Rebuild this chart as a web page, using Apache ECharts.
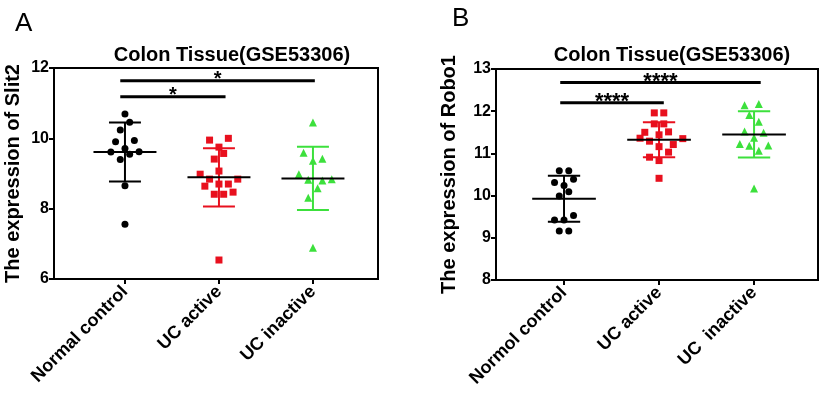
<!DOCTYPE html>
<html>
<head>
<meta charset="utf-8">
<script src="https://cdn.jsdelivr.net/npm/echarts@6/dist/echarts.min.js"></script>
<style>
  html, body { margin: 0; padding: 0; background: #fff; }
  #chart { width: 824px; height: 393px; }
</style>
</head>
<body>
<div id="chart"></div>
<script>
// group names (panel B keeps the original spelling)
const groupsA = ['Normal control', 'UC active', 'UC inactive'];
const groupsB = ['Normol control', 'UC active', 'UC  inactive'];

// panel A: Slit2 values, with horizontal jitter offsets as drawn
const slit2Normal = [10.69, 10.46, 10.24, 9.90, 9.94, 9.71, 9.61, 9.55, 9.62, 9.40, 8.65, 7.56];
const slit2NormalJit = [0, 0.05, -0.05, -0.1, 0.1, 0, -0.15, 0.05, 0.15, -0.05, 0, 0];
const slit2Active = [9.95, 10.00, 9.75, 9.57, 9.41, 9.07, 8.98, 8.84, 8.84, 8.64, 8.70, 8.70, 8.47, 8.41, 8.41, 6.54];
const slit2ActiveJit = [-0.1, 0.1, 0, 0.05, -0.05, 0, -0.2, -0.1, 0.2, -0.15, 0, 0.1, 0.15, -0.05, 0.05, 0];
const slit2Inactive = [10.45, 9.59, 9.42, 9.36, 8.98, 8.82, 8.80, 8.84, 8.58, 8.31, 6.89];
const slit2InactiveJit = [0, -0.1, 0.1, 0, -0.15, -0.05, 0.1, 0.2, 0.05, -0.05, 0];
const slit2Mean = [9.61, 8.89, 8.86];
const slit2Sd = [0.84, 0.83, 0.90];

// panel B: Robo1 values
const robo1Normal = [10.59, 10.59, 10.31, 10.39, 10.24, 10.09, 9.99, 9.42, 9.42, 9.53, 9.16, 9.16];
const robo1NormalJit = [-0.05, 0.05, -0.1, 0.1, 0, 0.05, -0.05, -0.1, 0, 0.1, -0.05, 0.05];
const robo1Active = [11.96, 11.96, 11.70, 11.70, 11.50, 11.51, 11.36, 11.44, 11.29, 11.35, 11.21, 11.16, 11.03, 10.91, 10.83, 10.41];
const robo1ActiveJit = [-0.05, 0.05, -0.05, 0.05, -0.15, 0.1, -0.2, 0, -0.1, 0.25, 0.15, 0, 0.1, -0.1, 0, 0];
const robo1Inactive = [12.14, 12.17, 11.91, 11.75, 11.52, 11.49, 11.37, 11.22, 11.18, 11.19, 11.06, 10.17];
const robo1InactiveJit = [-0.1, 0.05, -0.05, 0.05, -0.1, 0.1, 0, -0.15, -0.05, 0.15, 0.05, 0];
const robo1Mean = [9.925, 11.325, 11.45];
const robo1Sd = [0.545, 0.415, 0.55];

// significance brackets: [from group, to group, height, label]
const sigA = [[0.95, 2.07, 11.18, '*'], [0.95, 3.02, 11.64, '*']];
const sigB = [[0.96, 2.05, 12.20, '****'], [0.96, 3.07, 12.68, '****']];

const FONT = "'Liberation Sans', Arial, sans-serif";
const COLORS = ['#000000', '#e8101e', '#3ce03c'];
const SYMBOLS = ['circle', 'rect', 'triangle'];

const chart = echarts.init(document.getElementById('chart'));

function points(vals, jit, group) {
  return vals.map((v, i) => [group + jit[i], v]);
}

function scatter(vals, jit, g, axis) {
  return {
    type: 'scatter', xAxisIndex: axis, yAxisIndex: axis,
    symbol: SYMBOLS[g], symbolSize: g === 2 ? 8 : 7,
    itemStyle: { color: COLORS[g], opacity: 1 },
    data: points(vals, jit, g + 1), z: 2
  };
}

function errorBars(mean, sd, axis) {
  return {
    type: 'custom', xAxisIndex: axis, yAxisIndex: axis, z: 3,
    data: mean.map((m, i) => [i + 1, m, sd[i]]),
    renderItem: (params, api) => {
      const x = api.value(0), m = api.value(1), s = api.value(2);
      const c = COLORS[params.dataIndex];
      const seg = (a, b, color) => {
        const p1 = api.coord(a), p2 = api.coord(b);
        return { type: 'line', shape: { x1: p1[0], y1: p1[1], x2: p2[0], y2: p2[1] },
          style: { stroke: color, lineWidth: 2 } };
      };
      return { type: 'group', children: [
        seg([x, m - s], [x, m + s], c),
        seg([x - 0.17, m + s], [x + 0.17, m + s], c),
        seg([x - 0.17, m - s], [x + 0.17, m - s], c),
        seg([x - 0.335, m], [x + 0.335, m], '#000')
      ] };
    }
  };
}

function brackets(sig, axis, size) {
  return {
    type: 'custom', xAxisIndex: axis, yAxisIndex: axis, z: 3,
    data: sig.map(s => [s[0], s[1], s[2]]),
    renderItem: (params, api) => {
      const p1 = api.coord([api.value(0), api.value(2)]);
      const p2 = api.coord([api.value(1), api.value(2)]);
      return { type: 'group', children: [
        { type: 'line', shape: { x1: p1[0], y1: p1[1], x2: p2[0], y2: p2[1] },
          style: { stroke: '#000', lineWidth: 3 } },
        { type: 'text', style: {
          text: sig[params.dataIndex][3], x: (p1[0] + p2[0]) / 2, y: p1[1] - 1,
          align: 'center', verticalAlign: 'middle',
          font: 'bold ' + size + 'px ' + FONT, fill: '#000' } }
      ] };
    }
  };
}

function xAxis(idx, names, min, max) {
  return {
    type: 'value', gridIndex: idx, min: min, max: max,
    splitLine: { show: false },
    axisLine: { lineStyle: { color: '#000', width: 2 } },
    axisTick: { customValues: [1, 2, 3], length: 5, lineStyle: { color: '#000', width: 2 } },
    axisLabel: {
      customValues: [1, 2, 3], rotate: 45, margin: 10,
      formatter: v => names[Math.round(v) - 1],
      color: '#000', fontWeight: 'bold', fontSize: 18, fontFamily: FONT
    }
  };
}

function yAxis(idx, name, min, max, gap) {
  return {
    type: 'value', gridIndex: idx, min: min, max: max, interval: idx === 0 ? 2 : 1,
    name: name, nameLocation: 'middle', nameGap: gap,
    nameTextStyle: { color: '#000', fontWeight: 'bold', fontSize: 20, fontFamily: FONT },
    splitLine: { show: false },
    axisLine: { show: true, lineStyle: { color: '#000', width: 2 } },
    axisTick: { show: true, length: 5, lineStyle: { color: '#000', width: 2 } },
    axisLabel: { color: '#000', fontWeight: 'bold', fontSize: 16, fontFamily: FONT, margin: 5 }
  };
}

const titleStyle = { color: '#000', fontWeight: 'bold', fontSize: 20, fontFamily: FONT };
const letterStyle = { color: '#000', fontWeight: 'normal', fontSize: 26, fontFamily: FONT };

chart.setOption({
  animation: false,
  title: [
    { text: 'A', left: 10, top: 6, textStyle: letterStyle },
    { text: 'B', left: 447, top: 1, textStyle: letterStyle },
    { text: 'Colon Tissue(GSE53306)', left: 227, top: 40, textAlign: 'center', textStyle: titleStyle },
    { text: 'Colon Tissue(GSE53306)', left: 667, top: 40, textAlign: 'center', textStyle: titleStyle }
  ],
  grid: [
    { left: 54, top: 68, width: 324, height: 211, show: true, borderColor: '#000', borderWidth: 2 },
    { left: 496, top: 69, width: 322, height: 211, show: true, borderColor: '#000', borderWidth: 2 }
  ],
  xAxis: [
    xAxis(0, groupsA, 0.245, 3.692),
    xAxis(1, groupsB, 0.284, 3.673)
  ],
  yAxis: [
    yAxis(0, 'The expression of Slit2', 6, 12, 31),
    yAxis(1, 'The expression of Robo1', 8, 13, 37)
  ],
  series: [
    scatter(slit2Normal, slit2NormalJit, 0, 0),
    scatter(slit2Active, slit2ActiveJit, 1, 0),
    scatter(slit2Inactive, slit2InactiveJit, 2, 0),
    errorBars(slit2Mean, slit2Sd, 0),
    brackets(sigA, 0, 20),
    scatter(robo1Normal, robo1NormalJit, 0, 1),
    scatter(robo1Active, robo1ActiveJit, 1, 1),
    scatter(robo1Inactive, robo1InactiveJit, 2, 1),
    errorBars(robo1Mean, robo1Sd, 1),
    brackets(sigB, 1, 22)
  ]
});
</script>
</body>
</html>
